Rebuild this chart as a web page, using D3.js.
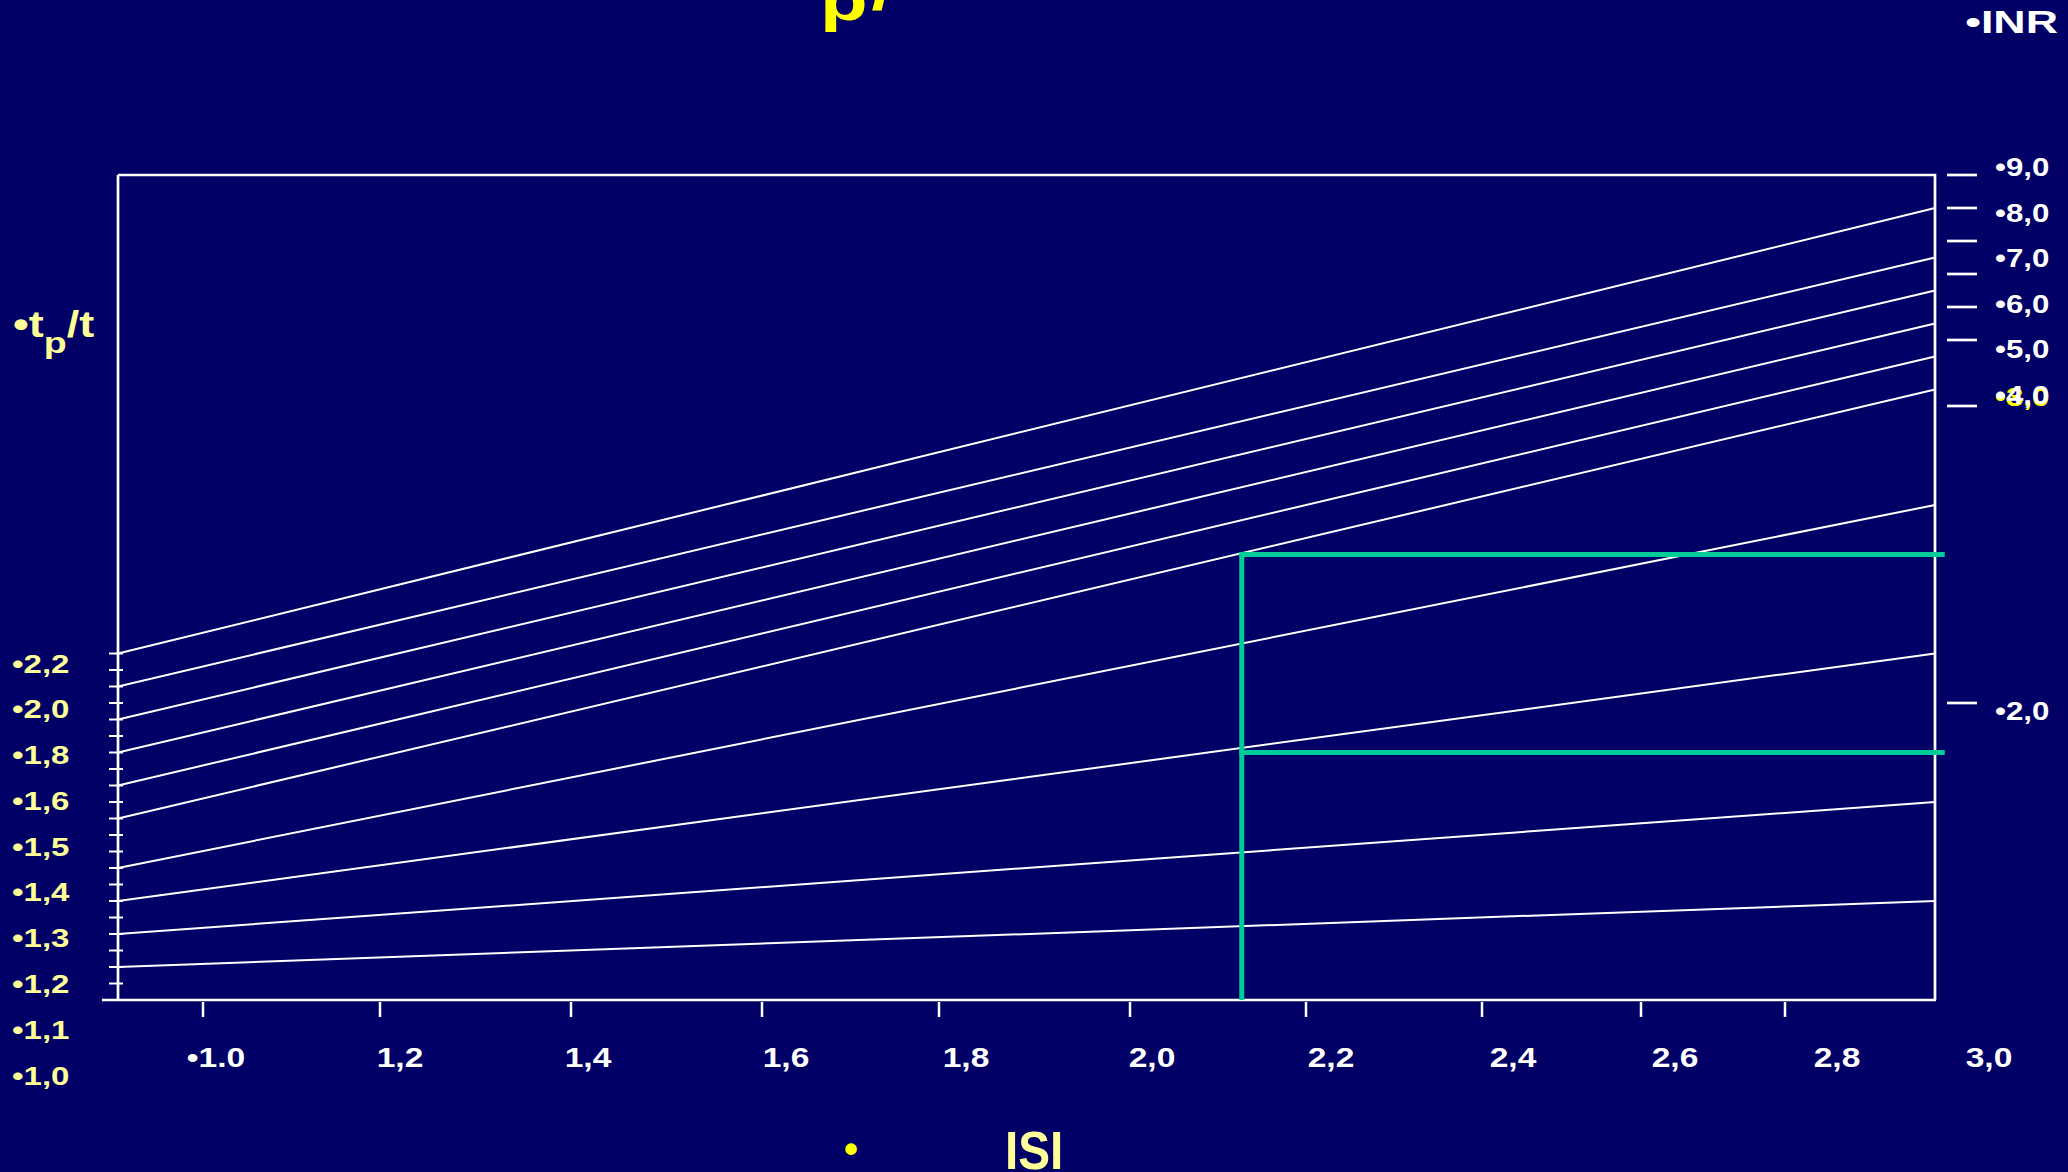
<!DOCTYPE html>
<html>
<head>
<meta charset="utf-8">
<script src="https://cdn.jsdelivr.net/npm/d3@7"></script>
<style>
  html, body { margin: 0; padding: 0; background: #000066; overflow: hidden; }
  svg { display: block; }
  text { font-family: "Liberation Sans", Arial, sans-serif; font-weight: bold; }
</style>
</head>
<body>
<svg id="chart" width="2068" height="1172"></svg>
<script>
// ---------------- DATA ----------------
// ISI axis (x)
const isiTickValues = [1.0, 1.2, 1.4, 1.6, 1.8, 2.0, 2.2, 2.4, 2.6, 2.8];
const isiLabelValues = [1.0, 1.2, 1.4, 1.6, 1.8, 2.0, 2.2, 2.4, 2.6, 2.8, 3.0];
const isiLabels = ["•1.0", "1,2", "1,4", "1,6", "1,8", "2,0", "2,2", "2,4", "2,6", "2,8", "3,0"];
const isiStart = 0.9;
const isiEnd = 3.0;

// tp/t axis (left, y)
const ratioTickValues = [1.05, 1.10, 1.15, 1.20, 1.25, 1.30, 1.35, 1.40, 1.45, 1.50, 1.55,
                         1.60, 1.65, 1.70, 1.75, 1.80, 1.85, 1.90, 1.95, 2.00, 2.05];
const ratioLabels = ["•2,2", "•2,0", "•1,8", "•1,6", "•1,5", "•1,4", "•1,3", "•1,2", "•1,1", "•1,0"];
const ratioMin = 1.0;
const ratioMax = 3.5;

// INR axis (right)
const inrLabels = ["•9,0", "•8,0", "•7,0", "•6,0", "•5,0", "•4,0", "•2,0"];
const inrValues = [9, 8, 7, 6, 5, 4, 2];
const inrExtraLabel = "•3,0";
const inrExtraValue = 4;
const inrTickRatios = [3.5, 3.4, 3.3, 3.2, 3.1, 3.0, 2.8, 1.9];

// Nomogram lines: tp/t at ISI 0.9 (left) and at ISI 3.0 (right)
const lineRatioStart = [2.05, 1.95, 1.85, 1.75, 1.65, 1.55, 1.40, 1.30, 1.20, 1.10];
const lineRatioEnd   = [3.40, 3.25, 3.15, 3.05, 2.95, 2.85, 2.50, 2.05, 1.60, 1.30];

// Green reading lines
const readISI = 2.127;
const readRatios = [2.35, 1.75];
const readEndISI = 3.013;

// ---------------- SCALES ----------------
const W = 2068, H = 1172;
const svg = d3.select("#chart");
svg.append("rect").attr("width", W).attr("height", H).attr("fill", "#000066");

const x = d3.scaleLinear()
  .domain([0.9, 1.0, 1.2, 1.4, 1.6, 1.8, 2.0, 2.2, 2.4, 2.6, 2.8, 3.0])
  .range([118, 203, 380, 571, 762, 939, 1130, 1306, 1482, 1641, 1785, 1935]);
const xLab = d3.scaleLinear()
  .domain(isiLabelValues)
  .range([216, 400, 588, 786, 966, 1152, 1331, 1513, 1675, 1837, 1989]);
const y = d3.scaleLinear().domain([ratioMin, ratioMax]).range([1000, 175]);
const yLab = d3.scalePoint().domain(ratioLabels).range([663, 1075]);
const inrY = d3.scaleLinear().domain([9, 4, 2]).range([167, 395, 711]);

const WHITE = "#ffffff", PALE = "#ffff99", YEL = "#ffff00", GREEN = "#00cc99";

// ---------------- FRAME ----------------
const g = svg.append("g");
const x0 = x(isiStart), x1 = x(isiEnd), yb = y(ratioMin), yt = y(ratioMax);

g.append("path")
  .attr("d", `M${x0},${yt}H${x1}V${yb}`)
  .attr("fill", "none").attr("stroke", WHITE).attr("stroke-width", 2.7);
g.append("line").attr("x1", x0).attr("x2", x0).attr("y1", yt).attr("y2", yb)
  .attr("stroke", WHITE).attr("stroke-width", 2.7);
g.append("line").attr("x1", x0 - 16).attr("x2", x1 + 1).attr("y1", yb).attr("y2", yb)
  .attr("stroke", WHITE).attr("stroke-width", 2.7);

g.selectAll(".lt").data(ratioTickValues).join("line")
  .attr("x1", x0 - 9).attr("x2", x0 + 5)
  .attr("y1", d => y(d)).attr("y2", d => y(d))
  .attr("stroke", WHITE).attr("stroke-width", 2);

g.selectAll(".bt").data(isiTickValues).join("line")
  .attr("x1", d => x(d)).attr("x2", d => x(d))
  .attr("y1", yb + 2).attr("y2", yb + 17)
  .attr("stroke", WHITE).attr("stroke-width", 2.5);

g.selectAll(".rt").data(inrTickRatios).join("line")
  .attr("x1", x1 + 12).attr("x2", x1 + 42)
  .attr("y1", d => y(d)).attr("y2", d => y(d))
  .attr("stroke", WHITE).attr("stroke-width", 2.7);

// ---------------- NOMOGRAM LINES ----------------
const lineGen = d3.line().x(d => x(d[0])).y(d => y(d[1]));
const lines = lineRatioStart.map((r0, i) => [[isiStart, r0], [isiEnd, lineRatioEnd[i]]]);
g.selectAll(".nl").data(lines).join("path")
  .attr("d", lineGen)
  .attr("fill", "none").attr("stroke", WHITE).attr("stroke-width", 2);

// ---------------- GREEN READING LINES ----------------
g.append("line")
  .attr("x1", x(readISI)).attr("x2", x(readISI))
  .attr("y1", yb).attr("y2", y(d3.max(readRatios)) - 2.5)
  .attr("stroke", GREEN).attr("stroke-width", 5);
g.selectAll(".gh").data(readRatios).join("line")
  .attr("x1", x(readISI) - 2.5).attr("x2", x(readEndISI))
  .attr("y1", d => y(d)).attr("y2", d => y(d))
  .attr("stroke", GREEN).attr("stroke-width", 5);

// ---------------- TEXT ----------------
g.selectAll(".xl").data(isiLabelValues).join("text")
  .attr("transform", d => `translate(${xLab(d)},1067) scale(1.2,1)`)
  .attr("text-anchor", "middle")
  .attr("font-size", 28).attr("fill", WHITE)
  .text((d, i) => isiLabels[i]);

g.selectAll(".yl").data(ratioLabels).join("text")
  .attr("transform", d => `translate(12,${yLab(d) + 9.5}) scale(1.27,1)`)
  .attr("font-size", 26).attr("fill", PALE)
  .text(d => d);

g.append("text")
  .attr("transform", `translate(1995,${inrY(inrExtraValue) + 11}) scale(1.25,1)`)
  .attr("font-size", 25).attr("fill", YEL)
  .text(inrExtraLabel);
g.selectAll(".il").data(inrValues).join("text")
  .attr("transform", d => `translate(1995,${inrY(d) + 9}) scale(1.25,1)`)
  .attr("font-size", 25).attr("fill", WHITE)
  .text((d, i) => inrLabels[i]);

const yt1 = svg.append("text")
  .attr("transform", "translate(13,337) scale(1.25,1)")
  .attr("font-size", 36).attr("fill", PALE);
yt1.append("tspan").text("•t");
yt1.append("tspan").attr("font-size", 30).attr("dy", 16).text("p");
yt1.append("tspan").attr("dy", -16).text("/t");

svg.append("text")
  .attr("transform", "translate(2058,33) scale(1.4,1)")
  .attr("text-anchor", "end")
  .attr("font-size", 32).attr("fill", WHITE)
  .text("•INR");

svg.append("text")
  .attr("x", 851).attr("y", 1163)
  .attr("text-anchor", "middle")
  .attr("font-size", 40).attr("fill", YEL)
  .text("•");

svg.append("text")
  .attr("transform", "translate(1005,1169) scale(0.9,1)")
  .attr("font-size", 53).attr("fill", PALE)
  .text("ISI");

const tt = svg.append("text")
  .attr("transform", "translate(820,20) scale(1.3,1)")
  .attr("font-size", 60).attr("fill", YEL);
tt.append("tspan").text("p");
tt.append("tspan").attr("dx", 3).attr("dy", -11).text("/");
</script>
</body>
</html>
